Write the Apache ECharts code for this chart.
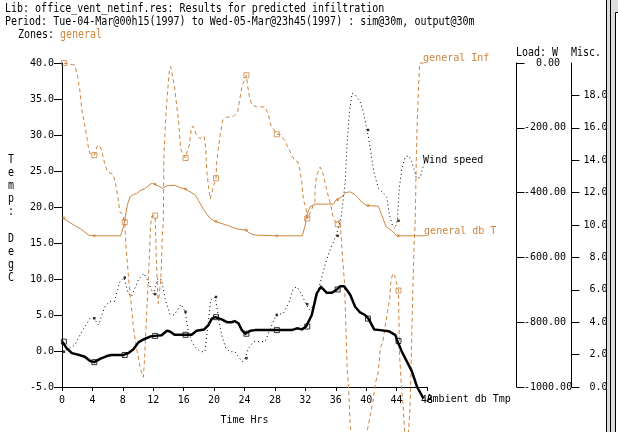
<!DOCTYPE html>
<html><head><meta charset="utf-8">
<script src="https://cdn.jsdelivr.net/npm/echarts@6/dist/echarts.min.js"></script>
<style>html,body{margin:0;padding:0;background:#fff}#c{width:618px;height:432px}</style>
</head><body><div id="c"></div>
<script>
const ORANGE = '#cd853f';
const FONT = '"DejaVu Sans Mono", monospace';
const xTicks = [0,4,8,12,16,20,24,28,32,36,40,44,48];
const markerHours = [0.25,4.25,8.25,12.25,16.25,20.25,24.25,28.25,32.25,36.25,40.25,44.25];
const infiltration = [[0.25,40],[1.7,39.7],[2.06,38.1],[2.4,35.8],[2.6,33.5],[2.9,31.9],[3.25,29.8],[3.5,28.1],[3.7,27.4],[4.25,27.2],[4.6,28.4],[4.95,28.6],[5.2,27.9],[5.6,26.1],[6,24.9],[6.75,24.5],[7,23.5],[7.3,21.7],[7.6,19.4],[8,18.9],[8.25,17.9],[8.4,14.7],[8.8,9.6],[9.1,6.4],[9.4,3.2],[9.8,0.4],[10.3,-2.4],[10.7,-3.65],[10.85,-1.2],[11.15,5.5],[11.45,12],[11.65,17.5],[11.8,18.7],[12.25,18.8],[12.4,12.9],[12.65,6.6],[12.8,8],[13,9.9],[13.2,16.1],[13.33,18],[13.4,27.2],[13.7,33.5],[14.1,38.8],[14.3,39.5],[14.55,39.6],[14.8,36.7],[15.1,33.9],[15.3,32.3],[15.6,28.1],[15.85,27.5],[16.25,26.8],[16.4,27.5],[16.75,28.6],[17,30.9],[17.2,31.25],[17.7,30],[18.15,29.5],[18.7,29.8],[18.9,28.1],[19.05,24.9],[19.25,23],[19.5,21.1],[19.7,21],[19.9,22.8],[20.25,24],[20.35,26.3],[20.55,28.1],[20.8,30],[21.15,32.1],[21.65,32.45],[22.55,32.6],[23.1,33.2],[23.4,35.1],[23.7,36.9],[24.25,38.3],[24.4,36.9],[24.65,35.3],[24.95,34.2],[25.6,33.9],[26.7,33.9],[27.15,32.8],[27.45,31.4],[28,30.5],[28.25,30.1],[28.7,30.1],[29.35,29.1],[29.8,28.1],[30.2,27.2],[30.65,26.4],[31,26.3],[31.3,25.1],[31.55,23.3],[31.75,21],[32.1,19.8],[32.25,18.4],[32.7,19.35],[33.25,20.7],[33.3,22.8],[33.5,24.4],[33.95,25.55],[34.2,25.6],[34.4,24.4],[34.6,23.3],[35.05,21.4],[35.4,20],[35.7,18.4],[36.25,17.6],[36.5,18.2],[36.7,16.1],[36.9,12.9],[37.15,9.6],[37.3,4.5],[37.5,-2.4],[37.7,-5.4],[37.9,-10.5],[38,-11.3],[38.5,-14],[39.5,-14],[40.2,-10.8],[40.5,-9.1],[40.9,-7],[41.2,-4.5],[41.6,-2.9],[41.85,0.4],[42.2,1.3],[42.5,3.4],[42.8,5.45],[43.1,7.3],[43.25,9.6],[43.5,10.8],[43.8,10.3],[44.25,8.4],[44.3,5],[44.4,-0.6],[44.6,-4.3],[44.85,-7.5],[45.05,-11.2],[45.3,-13],[45.6,-10.75],[45.8,-7],[45.9,-2.4],[46.1,6.8],[46.3,14.7],[46.45,18],[46.6,27.2],[46.7,31.2],[46.9,36.9],[47.05,40],[47.75,40]];
const dbTemp = [[0.05,18.5],[1.7,17.4],[2.4,17],[3.5,16.1],[4.25,16],[7.7,16],[8.1,17.3],[8.25,18.2],[8.4,18.4],[8.6,20.3],[8.95,21.4],[9.4,21.75],[9.8,21.85],[10.4,22.35],[10.85,22.5],[11.6,23.15],[11.9,23.3],[12.15,23.15],[12.7,22.9],[13.2,22.6],[13.7,22.9],[14.2,23],[14.9,23],[15.5,22.7],[16.2,22.5],[16.85,22.1],[17.5,21.7],[17.95,20.9],[18.6,19.7],[19.05,19],[19.5,18.4],[20.15,18],[21,17.7],[21.9,17.4],[23,16.95],[24.1,16.8],[24.75,16.3],[25.4,16.1],[28.25,16],[31.6,16],[32,17.5],[32.1,18.6],[32.6,20],[33.3,20.4],[35.7,20.4],[36.05,21],[36.8,21.4],[37.25,22],[37.9,22.1],[38.55,21.7],[39.4,20.7],[40.1,20.2],[41.6,20.1],[42.05,18.9],[42.6,17.3],[43.4,16.7],[44,16],[47.75,16]];
const windSpeed = [[0.05,-0.1],[1.05,0.4],[1.7,0.85],[2.6,2.7],[3.7,4.55],[4.2,4.55],[4.8,3.6],[5.65,6.2],[6.3,6.9],[6.9,6.9],[7.6,9.6],[8.15,10.2],[8.7,8],[9.15,7.6],[10.05,9.9],[10.75,10.8],[11.35,9.6],[12,7.9],[12.15,7.9],[12.6,10.1],[13.1,9.9],[13.55,7.3],[14.2,5.1],[14.75,5],[15.65,6.5],[16.2,5.45],[16.6,2.7],[17.2,1.05],[17.7,0.35],[18.25,-0.1],[18.8,-0.1],[19.25,4.1],[19.55,7.1],[20.15,7.5],[20.6,4.5],[21,2.2],[21.55,0.35],[22.1,-0.1],[22.75,-0.1],[23.7,-1.5],[24.1,-1],[24.5,0.35],[25.2,1.3],[26.7,1.3],[27.4,3.1],[28.15,5],[29.1,5.2],[29.8,6.6],[30.45,8.7],[30.9,8.9],[31.55,7.8],[32.1,6.5],[32.55,5.7],[33.2,6.5],[34,9.6],[34.6,12],[35.3,14.2],[36.05,16],[36.7,18.5],[37.25,23.5],[37.45,28.1],[37.8,33.2],[38.15,35.8],[38.55,35.6],[39.2,34.6],[39.65,33.2],[40.1,30.7],[40.45,28.8],[41,24.9],[41.6,22.6],[42.3,21.9],[42.7,21.4],[43.05,18.9],[43.5,17.3],[43.8,17],[44.1,18.1],[44.35,22.6],[44.7,25.4],[45.15,27],[45.6,27.1],[46,26.3],[46.45,24.7],[46.6,24],[47.1,24.1],[47.75,26.5]];
const ambient = [[0.05,1.3],[0.25,1.3],[0.6,0.4],[1.3,-0.3],[2.4,-0.6],[3,-0.8],[3.7,-1.4],[4.25,-1.55],[5,-1.1],[5.9,-0.7],[6.5,-0.55],[8.1,-0.55],[8.7,-0.3],[9.4,0.25],[10.05,1.2],[10.7,1.6],[11.6,2],[12.15,2.1],[13.1,2.2],[13.8,2.8],[14.2,2.7],[14.8,2.25],[17.05,2.25],[17.7,2.8],[18.7,3],[19.25,3.6],[19.7,4.5],[20.15,4.7],[21,4.4],[21.7,4],[22.3,4],[22.7,4.15],[23.2,3.85],[23.65,2.9],[24.1,2.4],[24.75,2.8],[25.4,2.9],[30.2,2.9],[30.9,3.15],[31.55,3],[32.1,3.4],[32.85,5],[33.5,8],[34.05,8.9],[34.8,8.1],[35.5,8.1],[36.15,8.55],[36.6,9],[37.1,9],[37.9,7.8],[38.55,6.15],[39.2,5.35],[39.85,5],[40.3,4.5],[41.05,3],[41.85,2.9],[42.95,2.75],[43.85,2.2],[44.1,1.4],[44.7,-0.1],[46,-2.8],[46.7,-5],[47.55,-6.6]];
const infMarks = [40,27.2,17.9,18.8,26.8,24,38.3,30.1,18.4,17.6,null,8.4];
const dbMarks = [18.5,16,18.2,23.15,22.5,18,16.8,16,18.6,21,20.2,16];
const windMarks = [-0.1,4.55,10.2,7.9,5.45,7.5,-1,5,6.5,16,30.7,18.1];
const ambMarks = [1.3,-1.55,-0.55,2.1,2.25,4.7,2.4,2.9,3.4,8.55,4.5,1.4];
const miscTicks = [0,2,4,6,8,10,12,14,16,18];

const chart = echarts.init(document.getElementById('c'), null, {renderer:'canvas'});
const txt = {color:'#000', fontFamily:FONT, fontSize:10};
function marks(vals){ return markerHours.map((h,i)=>[h,vals[i]]).filter(p=>p[1]!==null); }
function lineS(name,data,color,width,type,labelOffset){
  return {name,type:'line',data,symbol:'none',clip:false,silent:true,animation:false,z:name==='Ambient db Tmp'?5:3,
    lineStyle:{color,width,type,cap:'butt',join:'round'},
    endLabel:{show:true,formatter:name,color,fontFamily:FONT,fontSize:10,offset:labelOffset,distance:0}};
}
function markS(data,color,size,filled){
  return {type:'scatter',data,symbol:'rect',symbolSize:size,clip:true,silent:true,animation:false,z:6,
    itemStyle:filled?{color}:{color:'rgba(0,0,0,0)',borderColor:color,borderWidth:1}};
}
function text(x,y,s,color,lh){ return {type:'text',x,y,scaleY:1.2,z:20,style:{x:0,y:0,text:s,fill:color||'#000',font:'10px '+FONT,lineHeight:lh||11}}; }
chart.setOption({
  animation:false,
  backgroundColor:'#fff',
  grid:{left:62,right:191,top:63,bottom:45,containLabel:false},
  xAxis:{type:'value',min:0,max:48,interval:4,position:'bottom',
    name:'Time Hrs',nameLocation:'middle',nameGap:28,nameTextStyle:txt,
    axisLine:{show:true,onZero:false,lineStyle:{color:'#000',width:1}},
    axisTick:{show:true,length:4,lineStyle:{color:'#000'}},
    axisLabel:{...txt,margin:8,formatter:v=>xTicks.includes(v)?String(v):''},splitLine:{show:false}},
  yAxis:[
    {type:'value',min:-5,max:40,interval:5,position:'left',
     axisLine:{show:true,onZero:false,lineStyle:{color:'#000',width:1}},
     axisTick:{show:true,length:8,lineStyle:{color:'#000'}},
     axisLabel:{...txt,margin:8,formatter:v=>v.toFixed(1)},splitLine:{show:false}},
    {type:'value',min:-1000,max:0,interval:200,position:'right',offset:89.5,
     axisLine:{show:true,onZero:false,lineStyle:{color:'#000',width:1}},
     axisTick:{show:true,length:8,lineStyle:{color:'#000'}},
     axisLabel:{...txt,margin:7.5,align:'left',formatter:v=>v===0?'\u00a0\u00a00.00':v.toFixed(2)},splitLine:{show:false}},
    {type:'value',min:0,max:20,interval:2,position:'right',offset:144.5,
     axisLine:{show:true,onZero:false,lineStyle:{color:'#000',width:1}},
     axisTick:{show:true,length:8,lineStyle:{color:'#000'},customValues:miscTicks},
     axisLabel:{...txt,margin:42,align:'right',customValues:miscTicks,formatter:v=>v.toFixed(2)},splitLine:{show:false}}
  ],
  series:[
    lineS('general Inf',infiltration,ORANGE,1,[4,3],[-2,-5]),
    lineS('general db T',dbTemp,ORANGE,1,'solid',[-1,-4]),
    lineS('Wind speed',windSpeed,'#000',1,[1,3],[-2,0]),
    lineS('Ambient db Tmp',ambient,'#000',2.5,'solid',[3,1]),
    markS(marks(infMarks),ORANGE,5,false),
    markS(marks(dbMarks),ORANGE,2.5,true),
    markS(marks(windMarks),'#000',2.5,true),
    markS(marks(ambMarks),'#000',5,false),
    markS([[47.75,-6.6]],'#000',5,false)
  ],
  graphic:[
    text(5,2.5,'Lib: office_vent_netinf.res: Results for predicted infiltration'),
    text(5,15.5,'Period: Tue-04-Mar@00h15(1997) to Wed-05-Mar@23h45(1997) : sim@30m, output@30m'),
    text(18,28.5,'Zones:'),
    text(60,28.5,'general',ORANGE),
    text(516,46.5,'Load: W'),
    text(571,46.5,'Misc.'),
    text(8,153.5,'T\ne\nm\np\n:\n\nD\ne\ng\nC','#000',10.9),
    {type:'rect',z:30,shape:{x:606,y:0,width:12,height:432},style:{fill:'#dcdcdc'}},
    {type:'rect',z:31,shape:{x:615.5,y:12.5,width:3,height:420},style:{fill:'#fff',stroke:'#000',lineWidth:1}},
    {type:'line',z:32,shape:{x1:606.5,y1:0,x2:606.5,y2:432},style:{stroke:'#000',lineWidth:1}},
    {type:'line',z:32,shape:{x1:610.5,y1:0,x2:610.5,y2:432},style:{stroke:'#000',lineWidth:1}}
  ]
});
</script></body></html>
